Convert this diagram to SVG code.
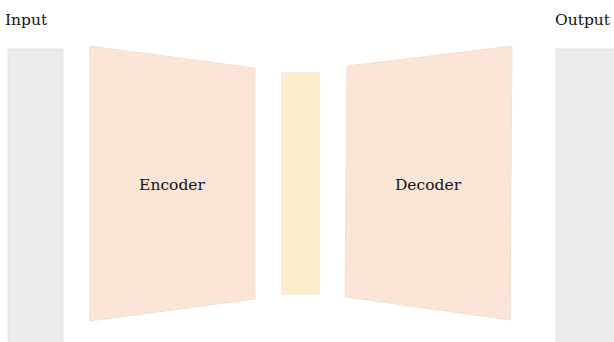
<svg xmlns="http://www.w3.org/2000/svg" width="614" height="342" viewBox="0 0 614 342">
  <style>
    .io { fill: #ececec; stroke: #e2e2e2; stroke-width: 0.8; }
    .coder { fill: #fae5d6; stroke: #f3dccb; stroke-width: 0.8; }
    .latent { fill: #fdefcb; stroke: #f0e2c0; stroke-width: 0.8; }
  </style>
  <rect width="614" height="342" fill="#ffffff"/>
  <g id="input">
    <rect class="io" x="8" y="49" width="55" height="300"/>
    <text x="5" y="25" font-family="DejaVu Serif" font-size="15.5" fill="#111">Input</text>
  </g>
  <g id="encoder">
    <polygon class="coder" points="90,46 255,68 255,299 90,321"/>
    <text x="172" y="190" text-anchor="middle" font-family="DejaVu Serif" font-size="15.5" fill="#111">Encoder</text>
  </g>
  <g id="latent">
    <rect class="latent" x="282" y="73" width="37" height="221"/>
  </g>
  <g id="decoder">
    <polygon class="coder" points="347,66 512,46 510,320 345,297"/>
    <text x="428" y="190" text-anchor="middle" font-family="DejaVu Serif" font-size="15.5" fill="#111">Decoder</text>
  </g>
  <g id="output">
    <rect class="io" x="556" y="49" width="62" height="300"/>
    <text x="555" y="25" font-family="DejaVu Serif" font-size="15.5" fill="#111">Output</text>
  </g>
  <g id="connectors"></g>
</svg>
